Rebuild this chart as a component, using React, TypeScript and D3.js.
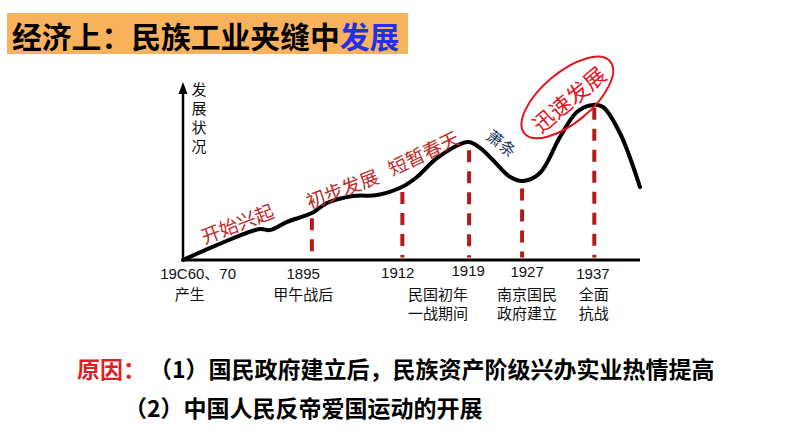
import React from "react";
import * as d3 from "d3";

// ---- data (chart units: x 0..100 along the axis, y 0..100 development level) ----
const curveX = [0, 7.4, 16.8, 19.0, 22.8, 28.2, 31.5, 37.2, 42.5, 47.9, 51.2, 55.6, 62.4, 65.0, 67.8, 71.6, 74.4, 78.1, 82.5, 86.2, 89.7, 91.9, 95.6, 100];
const curveY = [0, 8.8, 18.2, 17.6, 22.4, 27.6, 33.5, 37.6, 38.2, 42.9, 48.8, 60.0, 69.4, 65.9, 58.8, 48.8, 46.5, 51.2, 72.4, 87.1, 91.2, 90.0, 74.7, 42.9];

const dashX = [28.2, 48.0, 62.6, 74.2, 90.0];
const dashTop = [24.5, 40.0, 64.5, 42.0, 89.5];

const tickYears = ["19C60、70", "1895", "1912", "1919", "1927", "1937"];
const tickX = [3.3, 26.3, 47.0, 62.4, 75.3, 89.7];
const tickYearDy = [0, 0, -1, -3, -2, 0];
const tickLine1 = ["产生", "甲午战后", "民国初年", "", "南京国民", "全面"];
const tickLine2 = ["", "", "一战期间", "", "政府建立", "抗战"];
const tickLineX = [1.5, 26.3, 55.8, 0, 75.3, 89.9];

const stageLabels = ["开始兴起", "初步发展", "短暂春天"];
const stageX = [11.8, 34.8, 52.5];
const stageY = [22, 42.5, 63.5];
const stageAngle = [-21, -21, -26];

const reasonTitle = "原因：";
const reasons = ["（1）国民政府建立后，民族资产阶级兴办实业热情提高", "（2）中国人民反帝爱国运动的开展"];

const W = 794;
const H = 447;

export default function App() {
  const x = d3.scaleLinear().domain([0, 100]).range([183, 640]);
  const y = d3.scaleLinear().domain([0, 100]).range([260, 90]);

  const pts: [number, number][] = curveX.map((v, i) => [v, curveY[i]]);
  const line = d3
    .line<[number, number]>()
    .x((d) => x(d[0]))
    .y((d) => y(d[1]))
    .curve(d3.curveCatmullRom.alpha(0.5));

  const cjk = "'Noto Sans CJK SC', sans-serif";
  const num = "'Liberation Sans', Arial, 'Noto Sans CJK SC', sans-serif";

  return (
    <div style={{ position: "absolute", left: 0, top: 0 }}>
      <svg width={W} height={H} style={{ display: "block", background: "#fff" }}>
        {/* title */}
        <rect x={7} y={13} width={401} height={41} fill="#F9B25C" />
        <text x={12} y={34.5} dominantBaseline="central" fontFamily={cjk} fontWeight={700} fontSize={29.8} fill="#000">
          经济上：民族工业夹缝中<tspan fill="#2230E8">发展</tspan>
        </text>

        {/* axes */}
        <line x1={x(0)} y1={y(0)} x2={x(100)} y2={y(0)} stroke="#000" strokeWidth={3} />
        <line x1={x(0)} y1={y(0)} x2={x(0)} y2={92} stroke="#000" strokeWidth={2.5} />
        <path d={`M${x(0)},82 L${x(0) - 4.5},94 L${x(0) + 4.5},94 Z`} fill="#000" />

        {/* y label */}
        {["发", "展", "状", "况"].map((c, i) => (
          <text key={c} x={199} y={88 + i * 19} textAnchor="middle" dominantBaseline="central" fontFamily={cjk} fontSize={15} fill="#111">
            {c}
          </text>
        ))}

        {/* dashed lines */}
        {dashX.map((dx, i) => (
          <line key={i} x1={x(dx)} x2={x(dx)} y1={y(dashTop[i])} y2={y(1.5)} stroke="#B41A1A" strokeWidth={4} strokeDasharray="12,9" />
        ))}

        {/* curve */}
        <path d={line(pts) || ""} fill="none" stroke="#000" strokeWidth={4} strokeLinejoin="round" strokeLinecap="round" />

        {/* stage labels */}
        {stageLabels.map((s, i) => (
          <text
            key={s}
            transform={`translate(${x(stageX[i])},${y(stageY[i])}) rotate(${stageAngle[i]})`}
            textAnchor="middle"
            dominantBaseline="central"
            fontFamily={cjk}
            fontSize={19}
            fill="#BE2A2A"
          >
            {s}
          </text>
        ))}
        <text
          transform={`translate(${x(69.8)},${y(69)}) rotate(38)`}
          textAnchor="middle"
          dominantBaseline="central"
          fontFamily={cjk}
          fontSize={16}
          fill="#25305E"
        >
          萧条
        </text>
        <g transform={`translate(${x(84.1)},${y(95.6)}) rotate(-40)`}>
          <ellipse cx={0} cy={0} rx={56} ry={25} fill="none" stroke="#E3151C" strokeWidth={2} />
          <text x={0} y={1} textAnchor="middle" dominantBaseline="central" fontFamily={cjk} fontSize={22} fill="#E3151C">
            迅速发展
          </text>
        </g>

        {/* tick labels */}
        {tickYears.map((t, i) => (
          <text key={t} x={x(tickX[i])} y={273 + tickYearDy[i]} textAnchor="middle" dominantBaseline="central" fontFamily={num} fontSize={15} fill="#111">
            {t}
          </text>
        ))}
        {tickLine1.map((t, i) =>
          t ? (
            <text key={"a" + i} x={x(tickLineX[i])} y={293} textAnchor="middle" dominantBaseline="central" fontFamily={cjk} fontSize={15} fill="#111">
              {t}
            </text>
          ) : null
        )}
        {tickLine2.map((t, i) =>
          t ? (
            <text key={"b" + i} x={x(tickLineX[i])} y={312} textAnchor="middle" dominantBaseline="central" fontFamily={cjk} fontSize={15} fill="#111">
              {t}
            </text>
          ) : null
        )}

        {/* reasons */}
        <text x={77} y={368} dominantBaseline="central" fontFamily={cjk} fontWeight={700} fontSize={23} fill="#E0201E">
          {reasonTitle}
        </text>
        <text x={149} y={368} dominantBaseline="central" fontFamily={cjk} fontWeight={700} fontSize={23} fill="#000">
          {reasons[0]}
        </text>
        <text x={124} y={407} dominantBaseline="central" fontFamily={cjk} fontWeight={700} fontSize={23} fill="#000">
          {reasons[1]}
        </text>
      </svg>
    </div>
  );
}
